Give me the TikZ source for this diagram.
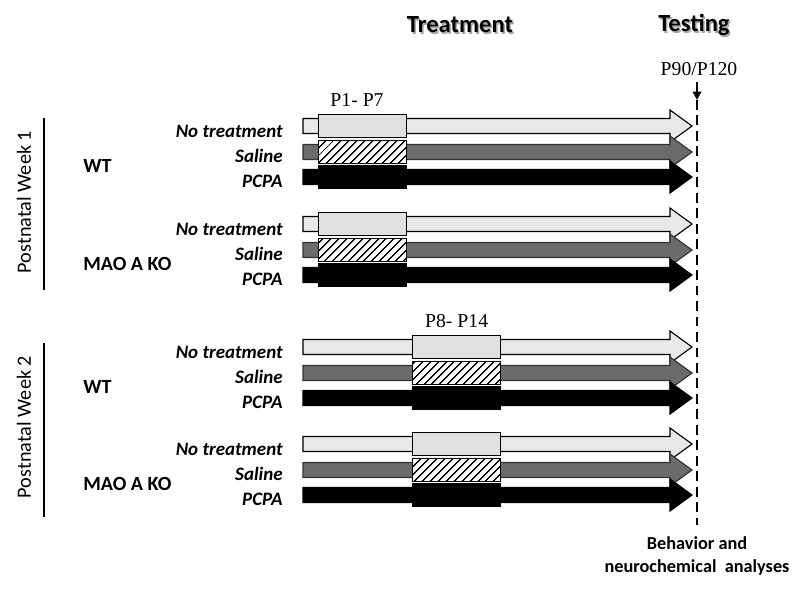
\documentclass[tikz,border=0pt]{standalone}
\usepackage{fontspec}
\setsansfont{Carlito}
\newfontfamily\pfont{Liberation Serif}
\usepackage{tikz}
\usetikzlibrary{arrows.meta,positioning,patterns.meta}
\tikzstyle{lightbar}=[draw=black,fill=black!9,line width=0.8pt]
\tikzstyle{greybar}=[draw=black!80,fill=black!58,line width=0.8pt]
\tikzstyle{darkbar}=[draw=black,fill=black,line width=0.8pt]
\tikzstyle{txbox}=[draw=black,line width=0.9pt,minimum width=2.2cm,minimum height=0.575cm,inner sep=0pt]
\tikzstyle{rowlab}=[anchor=east,font=\sffamily\bfseries\itshape\fontsize{13.5}{15}\selectfont,inner sep=0pt]
\tikzstyle{grplab}=[anchor=west,font=\sffamily\bfseries\fontsize{14.3}{16}\selectfont,inner sep=0pt]
\tikzstyle{weeklab}=[rotate=90,font=\sffamily\fontsize{14.4}{16}\selectfont,inner sep=0pt]
\tikzstyle{daylab}=[font=\pfont\fontsize{14}{16}\selectfont,inner sep=0pt]
\tikzstyle{headlab}=[font=\sffamily\bfseries\fontsize{17.5}{20}\selectfont,inner sep=0pt]
% one timeline arrow: style, row y
\newcommand{\tlarrow}[2]{%
  \draw[#1] (303,#2-7.5) -- (670,#2-7.5) -- (670,#2-16) -- (692,#2)
    -- (670,#2+16) -- (670,#2+7.5) -- (303,#2+7.5) -- cycle;}

\begin{document}
\begin{tikzpicture}[x=0.025cm,y=-0.025cm]
\useasboundingbox (0,0) rectangle (800,601);

% headers
\node[headlab,text=black!35] at (461.5,26.5) {Treatment};
\node[headlab] (treat) at (460,25) {Treatment};
\node[headlab,text=black!35] at (695.5,26.5) {Testing};
\node[headlab] (test) at (694,25) {Testing};
\node[daylab] (pend) at (699,69) {P90/P120};
\coordinate (dtop) at (697,100);
\coordinate (dbot) at (697,525);
\draw[line width=1.8pt,-{Triangle[length=6pt,width=6pt]}] (697,82) -- (dtop);
\draw[line width=1.2pt,dash pattern=on 7pt off 4pt] (dtop) -- (dbot);

% four groups: top row y / box x / group / window
\foreach \y/\bx/\grp/\k in {126/318/WT/a, 224/318/MAO A KO/b, 347/412/WT/c, 444/412/MAO A KO/d}{
  \tlarrow{lightbar}{\y}
  \tlarrow{greybar}{\y+26}
  \tlarrow{darkbar}{\y+51}
  \node[txbox,fill=black!12,anchor=west] (nt-\k) at (\bx,\y) {};
  \node[txbox,fill=white,postaction={pattern={Lines[angle=45,distance=4pt,line width=1pt]}},anchor=west] (sal-\k) at (\bx,\y+26) {};
  \node[txbox,fill=black,anchor=west] (pc-\k) at (\bx,\y+51) {};
  \node[rowlab] (lnt-\k) at (283,\y+5) {No treatment};
  \node[rowlab] (lsal-\k) at (283,\y+30) {Saline};
  \node[rowlab] (lpc-\k) at (283,\y+55) {PCPA};
  \node[grplab] (grp-\k) at (83,\y+40) {\grp};
}

% treatment windows
\node[daylab,above=5pt of nt-a,xshift=-4] (win1) {P1- P7};
\node[daylab,above=5pt of nt-c] (win2) {P8- P14};

% week brackets
\draw[line width=1pt] (44,118) -- (44,290);
\draw[line width=1pt] (44,343) -- (44,517);
\node[weeklab] (wk1) at (24,202) {Postnatal Week 1};
\node[weeklab] (wk2) at (24,427) {Postnatal Week 2};

% testing note
\node[font=\sffamily\bfseries\fontsize{13}{16}\selectfont,align=center,inner sep=0pt] (note) at (697,556) {Behavior and\\neurochemical\ \ analyses};
\end{tikzpicture}
\end{document}
